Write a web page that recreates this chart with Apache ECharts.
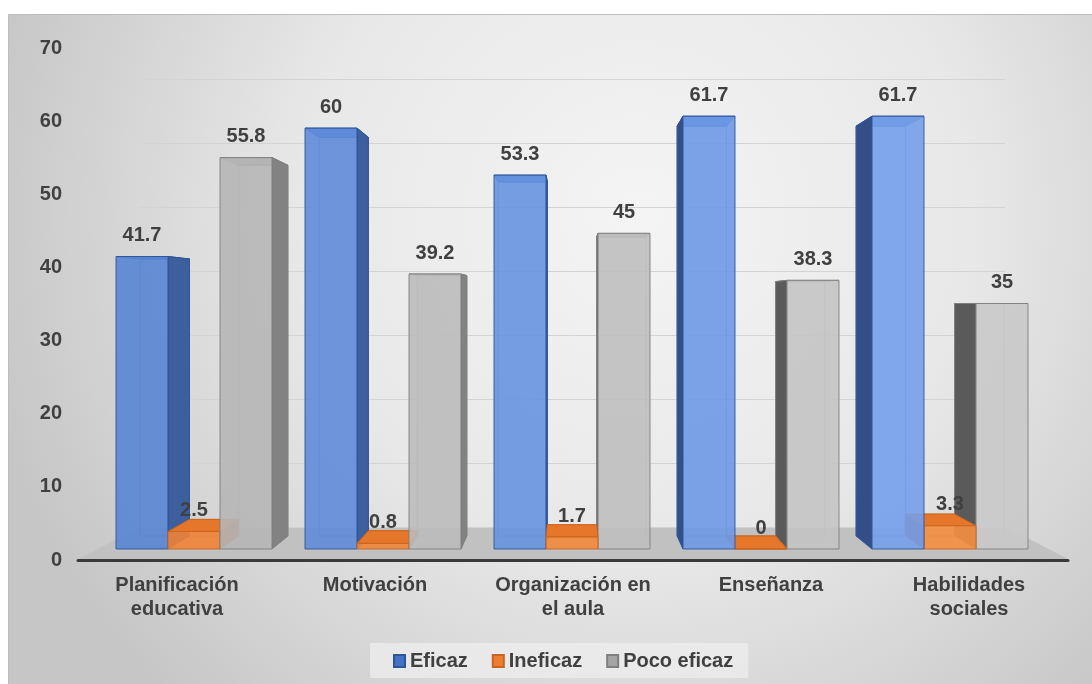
<!DOCTYPE html>
<html><head><meta charset="utf-8">
<script src="https://cdn.jsdelivr.net/npm/echarts@6/dist/echarts.min.js"></script>
<style>html,body{margin:0;padding:0;background:#fff;}#c{width:1092px;height:684px;}</style>
</head><body><div id="c"></div>
<script>
const categories = ['Planificación\neducativa', 'Motivación', 'Organización en\nel aula', 'Enseñanza', 'Habilidades\nsociales'];
const eficaz = [41.7, 60, 53.3, 61.7, 61.7];
const ineficaz = [2.5, 0.8, 1.7, 0, 3.3];
const pocoEficaz = [55.8, 39.2, 45, 38.3, 35];
const yTicks = [0, 10, 20, 30, 40, 50, 60, 70];
const seriesNames = ['Eficaz', 'Ineficaz', 'Poco eficaz'];
const seriesValues = [eficaz, ineficaz, pocoEficaz];

const FONT = '"Liberation Sans", Arial, sans-serif';
const TXT = '#404040';
const EYE = 35, DEPTH = 0.947, BAR_FRAC = 52 / 189;
const pal = [
  {f0: [87,132,211], f1: [122,165,239], side: '#3d5f9e', sideL: '#324f88', top: '#4c78c6', edge: '#2f5597', legend: '#4472c4'},
  {f0: [238,130,54], f1: [246,143,64], side: '#c4621c', sideL: '#b0561a', top: '#e5762a', edge: '#c8651f', legend: '#ed7d31'},
  {f0: [178,178,178], f1: [202,202,202], side: '#828282', sideL: '#5a5a5a', top: '#a2a2a2', edge: '#7f7f7f', legend: '#a5a5a5'}
];
function lerpColor(a, b, t) {
  t = Math.max(0, Math.min(1, t));
  return 'rgb(' + a.map((v, i) => Math.round(v + (b[i] - v) * t)).join(',') + ')';
}
function makeRender(si) {
  return function (params, api) {
    const cat = api.value(0), val = api.value(1);
    const cs = params.coordSys;
    const band = api.size([1, 0])[0];
    const w = band * BAR_FRAC;
    const base = api.coord([cat, 0]);
    const topP = api.coord([cat, val]);
    const xL = base[0] - 1.5 * w + si * w, xR = xL + w;
    const yB = base[1], yT = topP[1];
    const vx = cs.x + cs.width / 2;
    const vy = api.coord([0, EYE])[1];
    const bk = (x, y) => [vx + (x - vx) * DEPTH, vy + (y - vy) * DEPTH];
    const p = pal[si];
    const cx = (xL + xR) / 2;
    const dist = Math.abs(cx - vx);
    const zb = Math.round((2000 - dist) * 4);
    const BTL = bk(xL, yT), BTR = bk(xR, yT), BBL = bk(xL, yB), BBR = bk(xR, yB);
    const frontFill = lerpColor(p.f0, p.f1, (cx - cs.x) / cs.width);
    const ch = [];
    ch.push({type: 'polygon', shape: {points: [BTL, BTR, BBR, BBL]}, style: {fill: 'none', stroke: p.edge, lineWidth: 1, opacity: 0.6}, z2: zb});
    ch.push({type: 'polygon', shape: {points: [[xL, yT], [xR, yT], BTR, BTL]}, style: {fill: p.top, stroke: p.edge, lineWidth: 1}, z2: zb + 1});
    if (xR < vx - 0.5) {
      ch.push({type: 'polygon', shape: {points: [[xR, yT], [xR, yB], BBR, BTR]}, style: {fill: p.side, stroke: p.edge, lineWidth: 1}, z2: zb + 1});
    } else if (xL > vx + 0.5) {
      ch.push({type: 'polygon', shape: {points: [[xL, yT], [xL, yB], BBL, BTL]}, style: {fill: p.sideL, stroke: p.edge, lineWidth: 1}, z2: zb + 1});
    }
    ch.push({type: 'rect', shape: {x: xL, y: yT, width: w, height: yB - yT}, style: {fill: frontFill, stroke: p.edge, lineWidth: 1, opacity: 0.9}, z2: zb + 3});
    ch.push({type: 'text', x: cx, y: yT - 11, style: {text: String(val), fill: TXT, font: 'bold 20px ' + FONT, align: 'center', textAlign: 'center', verticalAlign: 'bottom', textVerticalAlign: 'bottom'}, z2: 100000});
    return {type: 'group', children: ch};
  };
}

const chart = echarts.init(document.getElementById('c'), null, {renderer: 'canvas'});
const txtStyle = {color: TXT, fontFamily: FONT, fontWeight: 'bold', fontSize: 20};
chart.setOption({
  animation: false,
  backgroundColor: '#ffffff',
  graphic: [
    {type: 'rect', left: 8, top: 14, silent: true, z: -10,
     shape: {width: 1084, height: 670},
     style: {fill: {type: 'radial', x: 0.58, y: 0.3, r: 1.0, colorStops: [
        {offset: 0, color: '#f4f4f4'}, {offset: 0.5, color: '#e8e8e8'}, {offset: 1, color: '#c6c6c6'}]},
        stroke: '#bdbdbd', lineWidth: 1}},
    {type: 'polygon', silent: true, z: -5,
     shape: {points: [[78, 559], [1068, 559], [1006, 527], [140, 527]]},
     style: {fill: '#c1c1c1'}}
  ],
  legend: {
    data: seriesNames, left: 370, top: 643, padding: [8, 15, 7, 23],
    itemWidth: 11, itemHeight: 12, itemGap: 24, icon: 'rect',
    backgroundColor: 'rgba(240,240,240,0.7)',
    textStyle: txtStyle
  },
  grid: [
    {left: 78, right: 24, top: 48, bottom: 124},
    {left: 140, right: 87, top: 79, bottom: 157},
    {left: 99.5, right: 47.5, top: 58, bottom: 135}
  ],
  xAxis: [
    {type: 'category', gridIndex: 0, data: categories,
     axisLine: {lineStyle: {color: '#3a3a3a', width: 3}}, axisTick: {show: false},
     axisLabel: Object.assign({margin: 13, lineHeight: 24, interval: 0}, txtStyle)},
    {type: 'value', gridIndex: 1, show: false},
    {type: 'category', gridIndex: 2, data: categories, show: false}
  ],
  yAxis: [
    {type: 'value', gridIndex: 0, min: 0, max: 70, interval: 10,
     axisLine: {show: false}, axisTick: {show: false}, splitLine: {show: false},
     axisLabel: Object.assign({margin: 16, formatter: v => yTicks.includes(v) ? String(v) : ''}, txtStyle)},
    {type: 'value', gridIndex: 1, min: 0, max: 70, interval: 10,
     axisLine: {show: false}, axisTick: {show: false}, axisLabel: {show: false},
     splitLine: {lineStyle: {color: '#d3d3d3', width: 1}}},
    {type: 'value', gridIndex: 2, min: 0, max: 70, interval: 10, show: false}
  ],
  series: seriesNames.map((name, si) => ({
    type: 'custom', name: name, xAxisIndex: 2, yAxisIndex: 2,
    renderItem: makeRender(si),
    itemStyle: {color: pal[si].legend, borderColor: pal[si].edge, borderWidth: 1},
    data: seriesValues[si].map((v, i) => [i, v])
  }))
});
</script></body></html>
